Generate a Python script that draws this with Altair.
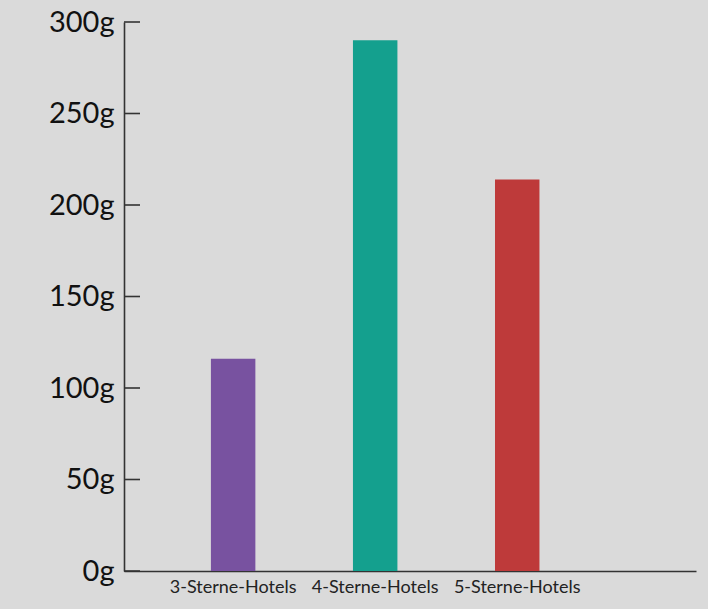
import altair as alt
import pandas as pd

categories = ["3-Sterne-Hotels", "4-Sterne-Hotels", "5-Sterne-Hotels"]
values = [116, 290, 214]
colors = ["#7852a0", "#14a08e", "#be3a3a"]
tick_values = [0, 50, 100, 150, 200, 250, 300]

df = pd.DataFrame({"cat": categories, "val": values})
ticks_df = pd.DataFrame({"t": tick_values})

FONT = "Lato"
W, H = 572, 549

x_scale = alt.Scale(domain=categories, paddingInner=0.687, paddingOuter=0.857, align=0.357)
y_scale = alt.Scale(domain=[0, 300], nice=False, zero=True)

bars = alt.Chart(df).mark_bar().encode(
    x=alt.X("cat:N", scale=x_scale, sort=categories,
            axis=alt.Axis(title=None, labelAngle=0, ticks=False, tickSize=0,
                          labelFontSize=18, labelFont=FONT, labelColor="#222222",
                          labelPadding=7, domainColor="#333333", domainWidth=1.6)),
    y=alt.Y("val:Q", scale=y_scale,
            axis=alt.Axis(title=None, values=tick_values, labelExpr="datum.value + 'g'",
                          ticks=False, tickSize=0, grid=False,
                          labelFontSize=29, labelFont=FONT, labelColor="#111111",
                          labelPadding=10, domainColor="#333333", domainWidth=1.6)),
    color=alt.Color("cat:N", scale=alt.Scale(domain=categories, range=colors), legend=None),
)

tick_marks = alt.Chart(ticks_df).mark_rule(color="#333333", strokeWidth=1.6).encode(
    y=alt.Y("t:Q", scale=y_scale),
    x=alt.value(0),
    x2=alt.value(16),
)

chart = alt.layer(bars, tick_marks).properties(
    width=W, height=H,
    autosize=alt.AutoSizeParams(type="none"),
    padding={"left": 124, "top": 22, "right": 12, "bottom": 38},
    background="#dadada",
).configure_view(stroke=None)

chart.save("out.html", embed_options={"renderer": "svg", "actions": False})
